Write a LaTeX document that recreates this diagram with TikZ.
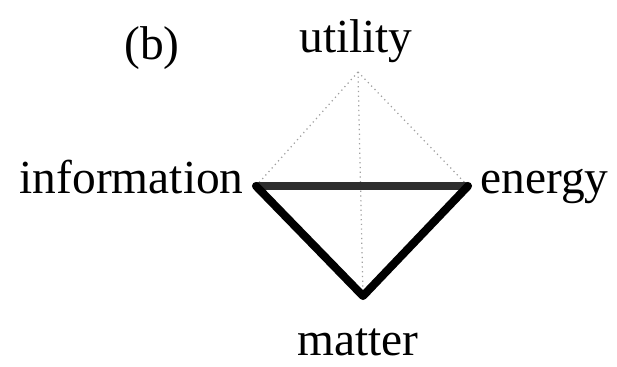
\documentclass[tikz,border=0pt]{standalone}
\usepackage{fontspec}
\setmainfont{Liberation Serif}
\definecolor{edgeGrey}{HTML}{2E2E2E}
\definecolor{dotGrey}{HTML}{A0A0A0}

\begin{document}
\begin{tikzpicture}[
    x=0.02cm, y=-0.02cm,
    lbl/.style={font=\fontsize{27}{32}\selectfont, inner sep=0pt},
    weak/.style={dotGrey, dotted, line width=0.7pt},
    strong/.style={black, line width=4.6pt, line cap=round, line join=round},
]
\useasboundingbox (0,0) rectangle (617,367);
% corners of the diamond
\coordinate (uti) at (358,72);
\coordinate (inf) at (256,186);
\coordinate (ene) at (468,186);
\coordinate (mat) at (363,296);
% labels
\node[lbl, anchor=base] (tag) at (152,60) {(b)};
\node[lbl, anchor=base] (utiLbl) at (356,53) {utility};
\node[lbl, anchor=base east] (infLbl) at (244,194) {information};
\node[lbl, anchor=base west] (eneLbl) at (480,194) {energy};
\node[lbl, anchor=base] (matLbl) at (358,355) {matter};
% faint links to utility
\draw[weak] (uti) -- (inf);
\draw[weak] (uti) -- (ene);
\draw[weak] (uti) -- (mat);
% strong links
\draw[edgeGrey, line width=4.2pt] (inf) -- (ene);
\draw[strong] (inf) -- (mat) -- (ene);
\end{tikzpicture}
\end{document}
